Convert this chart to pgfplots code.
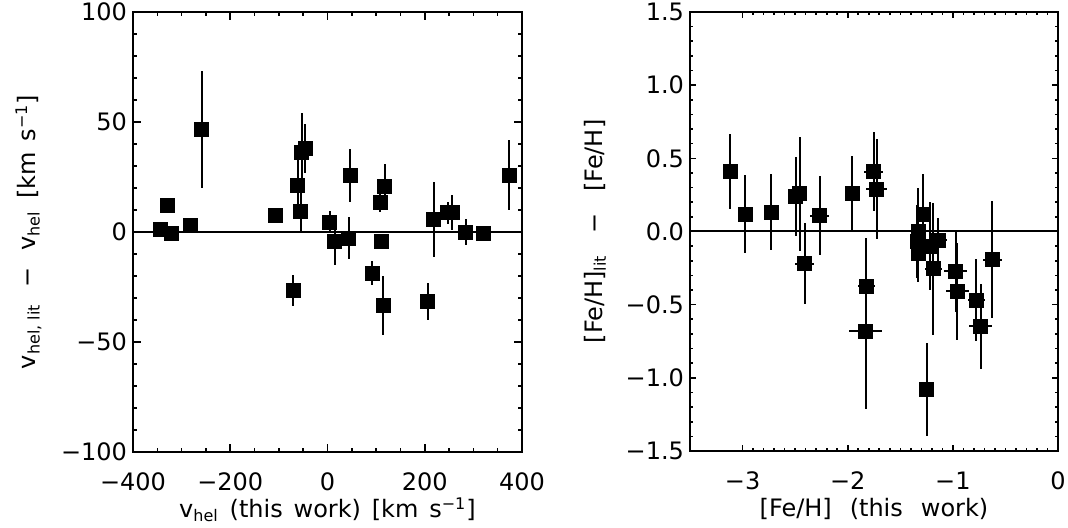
\documentclass[border=0pt]{standalone}
\usepackage{pgfplots}
\pgfplotsset{compat=1.18}
\usepackage{fontspec}
\setmainfont{DejaVu Sans}

\pgfplotstableread{
x y ey
-344 1 0
-329 12 0
-321 -0.5 0
-281 3 0
-259 46.7 26.5
-107 7.6 0
-71 -26.5 7
-61.5 21.1 12
-55 9.5 9
-53 36.4 17.8
-46 37.9 11
4.5 4.4 5
14.8 -4.5 10.5
43.6 -2.7 9.5
46.4 25.5 12
91.7 -18.8 5.5
108.2 13.3 4
110.2 -4.2 3
114.3 -33.3 13.3
117.8 20.9 10
206.4 -31.5 8.5
218.7 5.6 17
247.5 8.8 5
256.5 8.8 8
284.6 0 6
319.6 -0.5 1
373.2 25.8 16
}\veltable

\pgfplotstableread{
x y ex ey
-3.12 0.409 0.02 0.256
-2.977 0.120 0.02 0.265
-2.73 0.132 0.02 0.258
-2.493 0.239 0.03 0.27
-2.455 0.257 0.05 0.39
-2.41 -0.22 0.09 0.277
-2.265 0.107 0.09 0.27
-1.955 0.257 0.02 0.26
-1.752 0.409 0.09 0.27
-1.726 0.289 0.1 0.34
-1.822 -0.375 0.08 0.33
-1.831 -0.682 0.155 0.53
-1.33 0.0 0.05 0.3
-1.34 -0.07 0.05 0.25
-1.33 -0.148 0.05 0.2
-1.283 0.12 0.05 0.27
-1.22 -0.1 0.08 0.3
-1.14 -0.061 0.08 0.15
-1.188 -0.255 0.08 0.45
-1.25 -1.08 0.05 0.32
-0.973 -0.273 0.11 0.28
-0.96 -0.41 0.11 0.33
-0.777 -0.47 0.08 0.28
-0.735 -0.648 0.11 0.29
-0.625 -0.193 0.09 0.4
}\fetable

\newcommand{\wsp}{\hspace{0.45em}}
\newcommand{\wwsp}{\hspace{0.75em}}
\pgfplotsset{
  idl/.style={
    scale only axis,
    tick align=inside,
    axis line style={line width=1pt},
    every tick/.style={black, line width=0.8pt},
    tick label style={font=\fontsize{12}{14}\selectfont},
    label style={font=\fontsize{12}{14}\selectfont},
    yticklabel style={xshift=0.5pt},
    xticklabel style={yshift=-7pt},
  },
}

\begin{document}
\begin{tikzpicture}
\useasboundingbox (0,0) rectangle (534pt,264pt);
\begin{axis}[idl,
  at={(66.5pt,38pt)}, anchor=south west,
  width=194.5pt, height=220pt,
  xmin=-400, xmax=400, ymin=-100, ymax=100,
  xtick={-400,-200,0,200,400},
  xticklabels={−400,−200,0,200,400},
  ytick={-100,-50,0,50,100},
  yticklabels={−100,−50,0,50,100},
  minor x tick num=3, minor y tick num=4,
  major tick length=4pt, minor tick length=2pt,
  xlabel={v\textsubscript{hel}\wsp(this\wsp work)\wsp[km\wsp s\textsuperscript{−1}]},
  ylabel={v\textsubscript{hel, lit}\hspace{0.7em}−\hspace{0.7em}v\textsubscript{hel}\hspace{0.5em}[km\wsp s\textsuperscript{−1}]},
  xlabel style={at={(axis description cs:0.5,-0.15)}, anchor=base},
  ylabel style={at={(axis description cs:-0.25,0.5)}, anchor=base},
]
\addplot[black, line width=1pt] coordinates {(-400,0) (400,0)};
\addplot[only marks, mark=square*, mark size=3.5pt, black,
  error bars/.cd, y dir=both, y explicit, error mark=none,
  error bar style={line width=1pt}]
  table[x=x, y=y, y error=ey] {\veltable};
\end{axis}

\begin{axis}[idl,
  at={(345pt,38.5pt)}, anchor=south west,
  width=184pt, height=219.5pt,
  xmin=-3.5, xmax=0, ymin=-1.5, ymax=1.5,
  xtick={-3,-2,-1,0},
  xticklabels={−3,−2,−1,0},
  ytick={-1.5,-1,-0.5,0,0.5,1,1.5},
  yticklabels={−1.5,−1.0,−0.5,0.0,0.5,1.0,1.5},
  minor x tick num=9, minor y tick num=4,
  major tick length=3pt, minor tick length=1.5pt,
  xlabel={[Fe/H]\wwsp(this\wwsp work)},
  ylabel={[Fe/H]\textsubscript{lit}\hspace{0.9em}−\hspace{0.9em}[Fe/H]},
  xlabel style={at={(axis description cs:0.5,-0.15)}, anchor=base},
  ylabel style={at={(axis description cs:-0.239,0.5)}, anchor=base},
]
\addplot[black, line width=1pt] coordinates {(-3.5,0) (0,0)};
\addplot[only marks, mark=square*, mark size=3.5pt, black,
  error bars/.cd, y dir=both, y explicit, x dir=both, x explicit, error mark=none,
  error bar style={line width=1pt}]
  table[x=x, y=y, x error=ex, y error=ey] {\fetable};
\end{axis}
\end{tikzpicture}
\end{document}
